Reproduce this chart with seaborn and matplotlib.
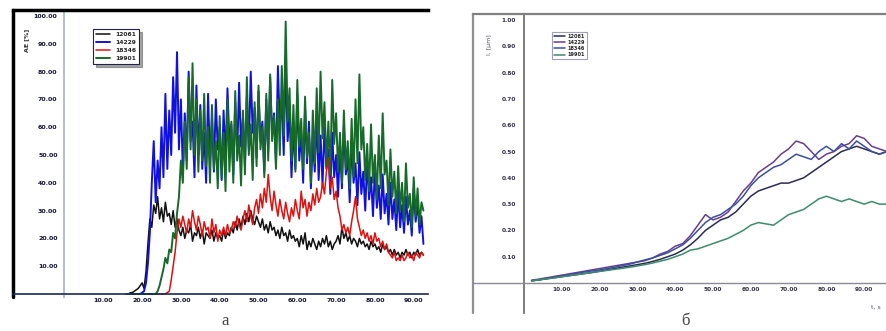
import numpy as np
import pandas as pd
import matplotlib
matplotlib.use("Agg")
import matplotlib.pyplot as plt
import seaborn as sns

# ---- panel a: acoustic emission, sampled every 0.5 s from 16 s ----
time_a = np.arange(16.0, 92.6, 0.5)

ae_12061 = [0, 0, 0.5, 0.5, 1, 1.5, 2, 3,
            4, 2, 8, 18, 27, 24, 32, 29, 35, 27,
            31, 26, 33, 28, 29, 25, 30, 24, 27, 23,
            21, 24, 20, 23, 22, 25, 19, 22, 21, 24,
            20, 23, 18, 22, 21, 20, 23, 19, 22, 20,
            21, 19, 23, 20, 22, 21, 24, 22, 26, 23,
            27, 24, 28, 25, 29, 26, 30, 27, 25, 28,
            26, 24, 27, 23, 25, 22, 26, 23, 24, 21,
            23, 20, 24, 21, 22, 19, 23, 20, 21, 19,
            20, 17, 21, 18, 22, 16, 19, 17, 20, 18,
            16, 19, 17, 20, 18, 21, 17, 19, 16, 18,
            19, 21, 18, 24, 20, 22, 19, 21, 18, 20,
            19, 17, 20, 18, 19, 17, 18, 16, 19, 17,
            18, 16, 17, 15, 18, 16, 17, 15, 16, 14,
            16, 14, 15, 13, 15, 14, 16, 14, 15, 13,
            15, 14, 16, 14, 15, 14]

ae_14229 = [0, 0, 0, 0, 0, 0, 0, 0, 0.5, 1,
            4, 11, 22, 40, 55, 33, 48, 38, 60, 42,
            72, 45, 66, 50, 78, 58, 87, 52, 70, 44,
            65, 48, 80, 55, 62, 42, 75, 50, 68, 45,
            58, 40, 72, 47, 63, 44, 70, 52, 60, 41,
            66, 48, 74, 55, 61, 43, 69, 50, 76, 53,
            64, 46, 71, 52, 80, 58, 67, 49, 73, 55,
            62, 44, 70, 51, 78, 57, 65, 47, 82, 60,
            70, 50, 85, 55, 66, 42, 60, 45, 72, 48,
            58, 40, 67, 47, 62, 38, 55, 44, 64, 41,
            57, 39, 60, 45, 52, 36, 58, 42, 50, 35,
            54, 38, 61, 43, 49, 33, 55, 40, 47, 32,
            51, 36, 44, 30, 48, 34, 42, 28, 45, 31,
            39, 27, 43, 29, 36, 25, 40, 27, 34, 23,
            37, 24, 32, 22, 35, 25, 30, 21, 38, 26,
            33, 22, 28, 18]

ae_18346 = [0, 0, 0, 0, 0, 0, 0, 0, 0, 0,
            0, 0, 0, 0, 0, 0, 0, 0, 0, 0,
            0, 0.5, 1, 5, 10, 15, 22, 27, 24, 28,
            25, 22, 27, 24, 30, 26, 23, 28, 25, 21,
            26, 23, 24, 20, 27, 22, 25, 19, 23, 21,
            24, 21, 25, 22, 23, 26, 24, 28, 25, 23,
            27, 30, 26, 32, 28, 25, 31, 34, 29, 36,
            31, 38, 33, 43, 35, 30, 37, 32, 28, 34,
            30, 27, 33, 29, 26, 31, 28, 34, 30, 27,
            37, 31, 34, 28, 33, 30, 36, 32, 38, 33,
            35, 40, 36, 44, 49, 38, 42, 34, 37, 31,
            28, 23, 25, 22, 24, 21, 26, 30, 35, 27,
            24, 21, 23, 20, 22, 19, 21, 18, 22, 19,
            20, 17, 19, 16, 18, 15, 14, 13, 15, 12,
            13, 12, 14, 12, 13, 15, 13, 14, 12, 15,
            14, 13, 15, 14]

ae_19901 = [0, 0, 0, 0, 0, 0, 0, 0, 0, 0,
            0, 0, 0, 0, 0, 0, 1, 3, 6, 9,
            13, 11, 16, 15, 22, 20, 29, 35, 48, 40,
            62, 45, 78, 52, 83, 50, 70, 44, 66, 48,
            72, 46, 60, 40, 68, 45, 55, 38, 64, 42,
            58, 37, 70, 44, 62, 40, 73, 48, 57, 39,
            66, 43, 78, 50, 61, 41, 69, 46, 75, 52,
            60, 42, 72, 48, 79, 55, 64, 45, 70, 50,
            82, 57, 98, 62, 74, 48, 68, 44, 77, 53,
            63, 45, 71, 49, 58, 40, 66, 47, 74, 51,
            80, 56, 69, 46, 62, 43, 77, 54, 65, 44,
            58, 40, 66, 45, 55, 38, 63, 42, 70, 47,
            79, 52, 60, 41, 54, 37, 61, 40, 50, 34,
            57, 38, 65, 43, 48, 32, 52, 35, 44, 29,
            46, 30, 40, 26, 47, 31, 36, 24, 42, 28,
            38, 25, 33, 30]

# ---- panel b: cumulative curves, every 2 s ----
time_b = np.arange(2, 97, 2)

cum_12061 = [0.008, 0.012, 0.016, 0.02, 0.024, 0.028, 0.032, 0.036, 0.04, 0.045,
             0.05, 0.055, 0.06, 0.065, 0.07, 0.075, 0.082, 0.09, 0.1, 0.11,
             0.125, 0.145, 0.17, 0.2, 0.22, 0.24, 0.25, 0.27, 0.3, 0.33,
             0.35, 0.36, 0.37, 0.38, 0.38, 0.39, 0.4, 0.42, 0.44, 0.46,
             0.48, 0.5, 0.51, 0.52, 0.51, 0.5, 0.49, 0.5]
cum_14229 = [0.01, 0.015, 0.02, 0.025, 0.03, 0.035, 0.04, 0.045, 0.05, 0.055,
             0.06, 0.065, 0.07, 0.075, 0.08, 0.085, 0.095, 0.11, 0.12, 0.14,
             0.15, 0.18, 0.22, 0.26, 0.24, 0.25, 0.27, 0.31, 0.35, 0.38,
             0.42, 0.44, 0.46, 0.49, 0.51, 0.54, 0.53, 0.5, 0.47, 0.49,
             0.5, 0.52, 0.53, 0.56, 0.55, 0.52, 0.51, 0.5]
cum_18346 = [0.01, 0.012, 0.018, 0.022, 0.027, 0.032, 0.037, 0.042, 0.046, 0.05,
             0.055, 0.06, 0.066, 0.072, 0.08, 0.088, 0.095, 0.105, 0.115, 0.13,
             0.145, 0.17, 0.2, 0.23, 0.25, 0.26, 0.28, 0.3, 0.33, 0.37,
             0.4, 0.42, 0.44, 0.45, 0.47, 0.49, 0.48, 0.47, 0.5, 0.52,
             0.5, 0.53, 0.51, 0.54, 0.52, 0.5, 0.49, 0.5]
cum_19901 = [0.008, 0.012, 0.016, 0.02, 0.024, 0.028, 0.032, 0.036, 0.04, 0.044,
             0.048, 0.052, 0.056, 0.06, 0.065, 0.07, 0.076, 0.083, 0.09, 0.1,
             0.11, 0.125, 0.13, 0.14, 0.15, 0.16, 0.17, 0.185, 0.2, 0.22,
             0.23, 0.225, 0.22, 0.24, 0.26, 0.27, 0.28, 0.3, 0.32, 0.33,
             0.32, 0.31, 0.32, 0.31, 0.3, 0.31, 0.3, 0.3]

labels = ["12061", "14229", "18346", "19901"]
colors_a = ["#111111", "#1010e0", "#e01010", "#166b2a"]
widths_a = [1.1, 1.4, 1.1, 1.4]
colors_b = ["#2b2b55", "#6a3d8f", "#3b4fa0", "#3c8c6c"]

W, H = 886, 331


def fig_rect(x0, y0, x1, y1):
    # pixel box (top-left origin) -> figure fraction rect
    return [x0 / W, 1 - y1 / H, (x1 - x0) / W, (y1 - y0) / H]


def plot_panel_a(fig):
    ax = fig.add_axes(fig_rect(13, 10, 428, 297))
    for lab, vals, c, lw in zip(labels, [ae_12061, ae_14229, ae_18346, ae_19901], colors_a, widths_a):
        sns.lineplot(x=time_a, y=vals, ax=ax, color=c, lw=lw, label=lab)
    ax.set_xlim(-13.27, 93.68)
    ax.set_ylim(-1.08, 102.16)
    ax.spines["left"].set_position(("data", 0))
    ax.spines["left"].set_color("#b4bfd0")
    ax.spines["left"].set_linewidth(1.5)
    ax.spines["bottom"].set_position(("data", 0))
    ax.spines["bottom"].set_color("#1a2a5a")
    ax.spines["bottom"].set_linewidth(1.2)
    ax.spines["top"].set_color("black")
    ax.spines["top"].set_linewidth(2.5)
    ax.spines["right"].set_visible(False)
    ax.plot([0, 0], [0, 1], transform=ax.transAxes, color="black", lw=2.5, clip_on=False)
    ax.set_xticks(np.arange(10, 91, 10))
    ax.set_xticklabels([f"{v:.2f}" for v in np.arange(10, 91, 10)])
    ax.set_yticks(np.arange(10, 101, 10))
    ax.set_yticklabels([f"{v:.2f}" for v in np.arange(10, 101, 10)])
    ax.tick_params(axis="both", labelsize=4.5, colors="#1a2a5a", length=2, width=0.8)
    ax.tick_params(axis="y", direction="in", pad=5)
    ax.tick_params(axis="x", direction="in", pad=3)
    for t in ax.get_xticklabels() + ax.get_yticklabels():
        t.set_fontweight("bold")
        t.set_color("#111133")
    ax.set_xlabel("")
    ax.set_ylabel("")
    ax.text(27 / W, 1 - 40 / H, "AE [%]", transform=fig.transFigure, rotation=90,
            fontsize=4.5, fontweight="bold", ha="center", va="center")
    leg = ax.legend(loc="upper left", bbox_to_anchor=(90 / W, 1 - 26 / H),
                    bbox_transform=fig.transFigure, fontsize=4.3, frameon=True,
                    fancybox=False, shadow=True, handlelength=2.4, borderpad=0.5,
                    labelspacing=0.45, handletextpad=0.8)
    leg.get_frame().set_edgecolor("#22224a")
    leg.get_frame().set_linewidth(0.8)
    for t in leg.get_texts():
        t.set_fontweight("bold")


def plot_panel_b(fig):
    ax = fig.add_axes(fig_rect(473, 14, 886, 313))
    for lab, vals, c in zip(labels, [cum_12061, cum_14229, cum_18346, cum_19901], colors_b):
        sns.lineplot(x=time_b, y=vals, ax=ax, color=c, lw=1.1, label=lab)
    ax.set_xlim(-13.49, 95.77)
    ax.set_ylim(-0.114, 1.023)
    ax.spines["left"].set_position(("data", 0))
    ax.spines["left"].set_color("#666666")
    ax.spines["left"].set_linewidth(1.2)
    ax.spines["bottom"].set_position(("data", 0))
    ax.spines["bottom"].set_color("#8a8a9a")
    ax.spines["bottom"].set_linewidth(1.0)
    ax.spines["top"].set_color("#808080")
    ax.spines["top"].set_linewidth(1.6)
    ax.spines["right"].set_visible(False)
    ax.plot([0, 0], [0, 1], transform=ax.transAxes, color="#909090", lw=1.6, clip_on=False)
    ax.set_xticks(np.arange(10, 91, 10))
    ax.set_xticklabels([f"{v:.2f}" for v in np.arange(10, 91, 10)])
    ax.set_yticks(np.round(np.arange(0.1, 1.01, 0.1), 2))
    ax.set_yticklabels([f"{v:.2f}" for v in np.arange(0.1, 1.01, 0.1)])
    ax.tick_params(axis="both", labelsize=4.2, colors="#555555", length=2, width=0.7)
    ax.tick_params(axis="y", direction="in", pad=6)
    ax.tick_params(axis="x", direction="in", pad=3)
    for t in ax.get_xticklabels() + ax.get_yticklabels():
        t.set_fontweight("bold")
        t.set_color("#333344")
    ax.set_xlabel("")
    ax.set_ylabel("")
    ax.text(489 / W, 1 - 45 / H, "l, [μm]", transform=fig.transFigure, rotation=90,
            fontsize=4.5, color="#555566", ha="center", va="center")
    ax.text(876 / W, 1 - 307 / H, "t, s", transform=fig.transFigure,
            fontsize=4.5, color="#555566", ha="center", va="center")
    leg = ax.legend(loc="upper left", bbox_to_anchor=(549 / W, 1 - 29 / H),
                    bbox_transform=fig.transFigure, fontsize=3.6, frameon=True,
                    fancybox=False, handlelength=2.2, borderpad=0.4,
                    labelspacing=0.25, handletextpad=0.6)
    leg.get_frame().set_edgecolor("#8888aa")
    leg.get_frame().set_linewidth(0.8)
    for t in leg.get_texts():
        t.set_fontweight("bold")


sns.set_style("white")
plt.rcParams["font.family"] = ["DejaVu Sans"]

fig = plt.figure(figsize=(W / 100, H / 100), dpi=100)
fig.patch.set_facecolor("white")
plot_panel_a(fig)
plot_panel_b(fig)

fig.text(225 / W, 1 - 321 / H, "а", fontsize=12, family=["Liberation Serif"],
         ha="center", va="center", color="#444444")
fig.text(685 / W, 1 - 321 / H, "б", fontsize=12, family=["Liberation Serif"],
         ha="center", va="center", color="#444444")

fig.savefig("out.png", dpi=100, facecolor="white")
